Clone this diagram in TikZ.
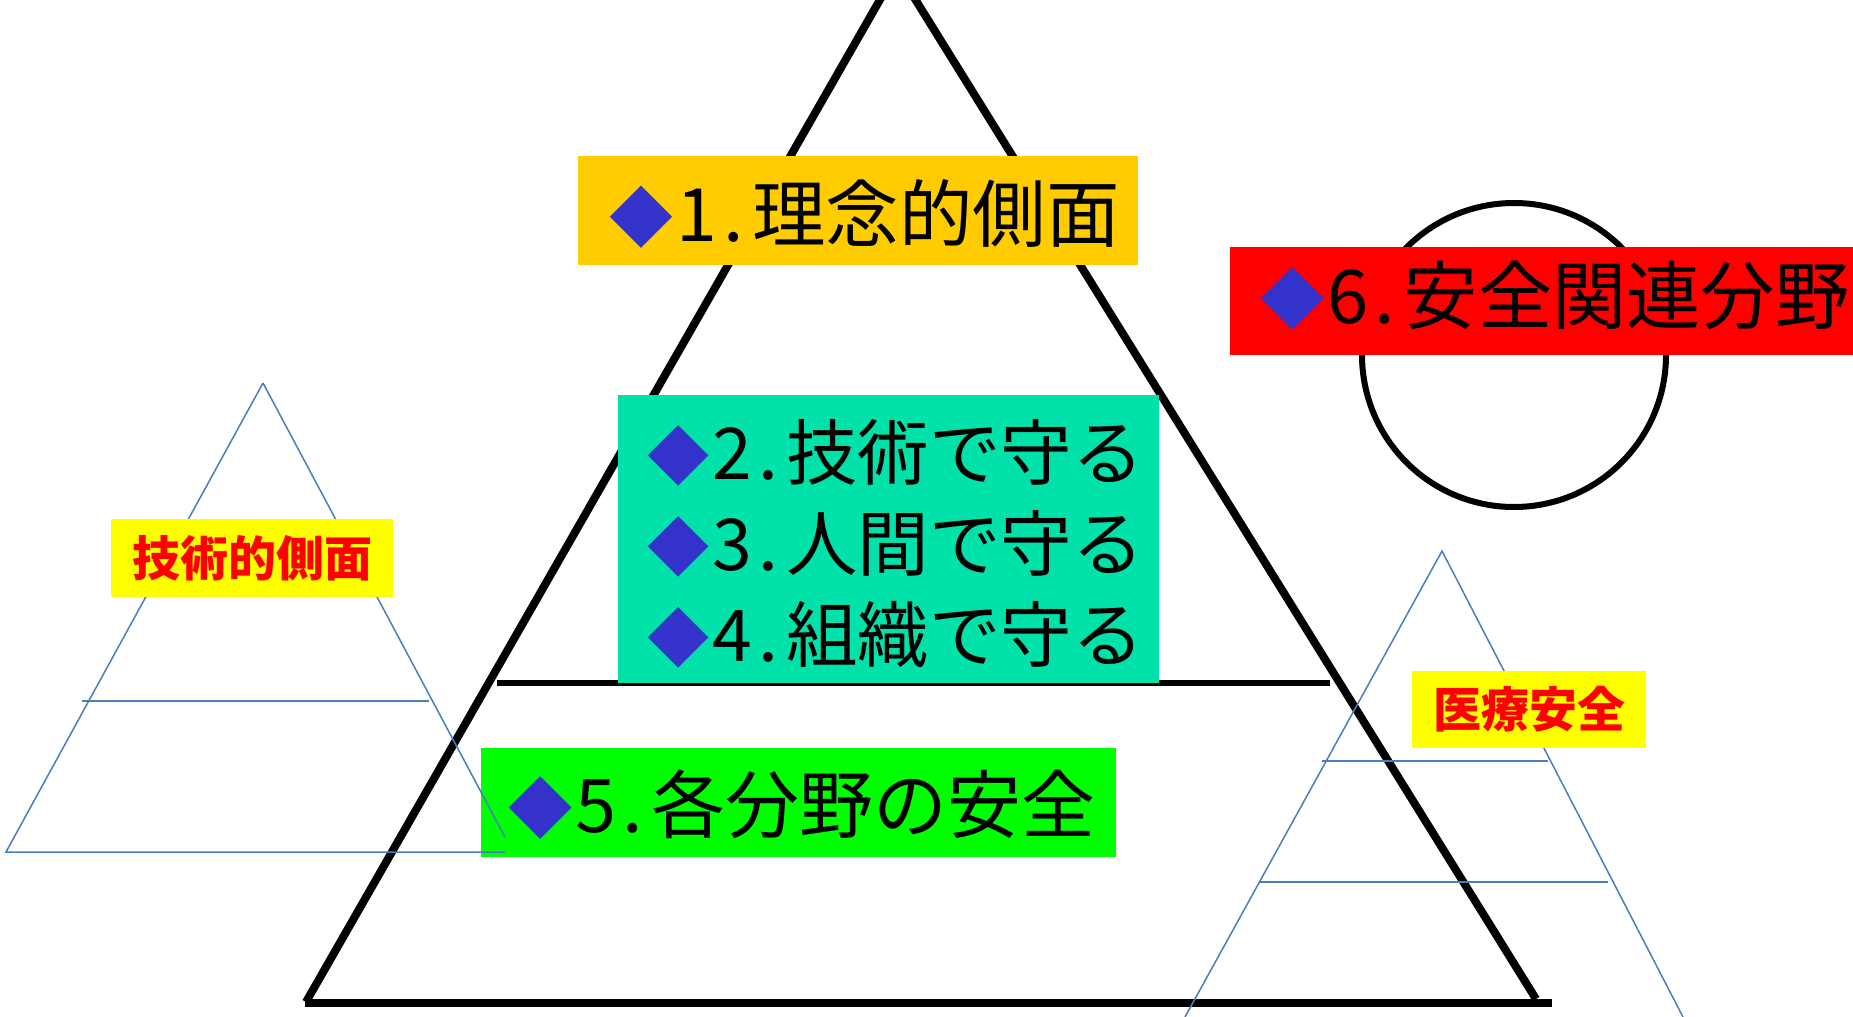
\documentclass[tikz,border=0pt]{standalone}
\usepackage{graphicx}
\usepackage{fontspec}
\setmainfont{Noto Sans CJK JP}
\definecolor{boxorange}{RGB}{255,204,0}
\definecolor{boxteal}{RGB}{0,226,170}
\definecolor{boxgreen}{RGB}{0,255,0}
\definecolor{boxred}{RGB}{255,0,0}
\definecolor{labelyellow}{RGB}{255,255,0}
\definecolor{labelred}{RGB}{255,0,0}
\definecolor{diablue}{RGB}{51,51,204}
\definecolor{lineblue}{RGB}{74,126,187}
\newcommand\hw[1]{\makebox[0.5em]{#1}}
\newcommand\dia{{\color{diablue}\makebox[1em]{\scalebox{0.87}{◆}}}}
\begin{document}
\begin{tikzpicture}[x=1pt,y=-1pt,
  mainline/.style={line width=8pt,black},
  midline/.style={line width=6pt,black},
  thinline/.style={line width=1.5pt,lineblue},
  fillbox/.style={rectangle,inner sep=0pt,draw=none},
  txt/.style={inner sep=0pt,anchor=west,text=black},
  labelbox/.style={rectangle,inner sep=0pt,fill=labelyellow,text=labelred,
    font=\bfseries\fontsize{48}{50}\selectfont}]
\useasboundingbox (0,0) rectangle (1853,1017);
% main triangle
\coordinate (apex) at (897,-30);
\coordinate (bl) at (306,1002);
\coordinate (br) at (1536,999);
\coordinate (bottomL) at (305,1003);
\coordinate (bottomR) at (1552,1003);
\coordinate (midL) at (497,683);
\coordinate (midR) at (1330,683);
\draw[mainline] (apex) -- (bl);
\draw[mainline] (apex) -- (br);
\draw[mainline] (bottomL) -- (bottomR);
\draw[midline] (midL) -- (midR);
% circle
\node[circle,draw,line width=6pt,minimum size=304pt,inner sep=0pt] (circ) at (1514,355) {};
% box 1
\node[fillbox,fill=boxorange,minimum width=560pt,minimum height=109pt] (b1) at (858,210.5) {};
\node[txt,font=\fontsize{73.5}{80}\selectfont] (t1) at (605,213.5) {\dia\hw{1}\hw{.}理念的側面};
% box 2
\node[fillbox,fill=boxteal,minimum width=541pt,minimum height=288pt] (b2) at (888.5,539) {};
\node[txt,font=\fontsize{71.5}{78}\selectfont] (t2) at (643,453) {\dia\hw{2}\hw{.}技術で守る};
\node[txt,font=\fontsize{71.5}{78}\selectfont] (t3) at (643,544) {\dia\hw{3}\hw{.}人間で守る};
\node[txt,font=\fontsize{71.5}{78}\selectfont] (t4) at (643,635) {\dia\hw{4}\hw{.}組織で守る};
% box 5
\node[fillbox,fill=boxgreen,minimum width=635pt,minimum height=109pt] (b5) at (798.5,802.5) {};
\node[txt,font=\fontsize{74}{80}\selectfont] (t5) at (503,805) {\dia\hw{5}\hw{.}各分野の安全};
% box 6
\node[fillbox,fill=boxred,minimum width=623pt,minimum height=108pt] (b6) at (1541.5,301) {};
\node[txt,font=\fontsize{74.3}{80}\selectfont] (t6) at (1255,296) {\dia\hw{6}\hw{.}安全関連分野};
% left small triangle
\coordinate (lta) at (263,383);
\coordinate (ltl) at (6,852);
\coordinate (ltr) at (505,837);
\coordinate (ltb) at (505,852);
\coordinate (ltm1) at (82,701);
\coordinate (ltm2) at (429,701);
\draw[thinline] (lta) -- (ltl) -- (ltb);
\draw[thinline] (lta) -- (ltr);
\draw[thinline] (ltm1) -- (ltm2);
% right small triangle
\coordinate (rta) at (1442,551);
\coordinate (rtl) at (1185,1017);
\coordinate (rtr) at (1683,1017);
\coordinate (rtm1) at (1322,761);
\coordinate (rtm2) at (1548,761);
\coordinate (rtm3) at (1259,882);
\coordinate (rtm4) at (1608,882);
\draw[thinline] (rtl) -- (rta) -- (rtr);
\draw[thinline] (rtm1) -- (rtm2);
\draw[thinline] (rtm3) -- (rtm4);
% labels
\node[labelbox,minimum width=282pt,minimum height=78pt] (lab1) at (252,558) {技術的側面};
\node[labelbox,minimum width=234pt,minimum height=77pt] (lab2) at (1529,709.5) {医療安全};
\end{tikzpicture}
\end{document}
